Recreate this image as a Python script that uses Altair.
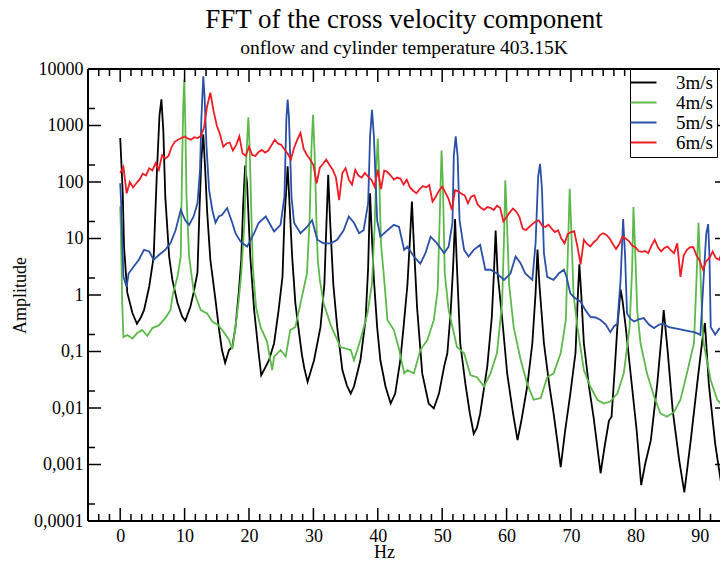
import altair as alt
import pandas as pd

# ---------------- data ----------------
series_names = ["3m/s", "4m/s", "5m/s", "6m/s"]
series_colors = ["#000000", "#5cb94a", "#2a4fa6", "#ee1c25"]

black_pts = [
    (0, 600), (0.2, 200), (0.4, 60), (0.6, 7), (1.1, 1.1), (1.9, 0.48), (2.6, 0.31), (3.2, 0.4),
    (3.7, 0.54), (4.5, 1.4), (5.2, 4.8), (5.7, 150), (6.1, 1500), (6.4, 2900), (6.7, 800), (7.0, 55),
    (7.6, 4.8), (8.1, 1.85), (8.9, 0.72), (9.6, 0.42), (10.1, 0.35), (10.9, 0.62), (11.4, 1.1),
    (12.0, 2.5), (12.3, 30), (12.6, 250), (12.9, 700), (13.2, 165), (13.5, 30), (14.0, 4.2),
    (14.8, 0.81), (15.3, 0.27), (15.8, 0.106), (16.3, 0.063), (16.9, 0.106), (17.4, 0.12),
    (17.9, 0.27), (18.4, 1.07), (18.8, 4.2), (19.1, 40), (19.4, 195), (19.7, 95), (20.2, 4.8),
    (20.8, 0.54), (21.5, 0.094), (21.9, 0.038), (22.6, 0.054), (23.1, 0.07), (23.9, 0.14),
    (24.6, 0.54), (25.2, 2.1), (25.5, 21), (26.0, 190), (26.3, 40), (26.7, 4.8), (27.2, 0.72),
    (27.7, 0.25), (28.2, 0.09), (28.6, 0.05), (29.1, 0.029), (29.6, 0.045), (30.1, 0.07),
    (31.1, 0.27), (31.7, 1.5), (32.0, 15), (32.3, 134), (32.6, 20), (33.1, 1.5), (33.7, 0.27),
    (34.5, 0.047), (35.2, 0.025), (35.8, 0.018), (36.3, 0.024), (37.3, 0.07), (38.1, 0.36),
    (38.5, 3), (38.8, 63), (39.1, 10), (39.4, 1.85), (39.9, 0.27), (40.4, 0.07), (41.2, 0.024),
    (42.0, 0.012), (42.7, 0.018), (43.5, 0.07), (44.0, 0.27), (44.6, 1.5), (45.0, 10), (45.3, 45),
    (45.6, 8), (46.1, 0.6), (46.9, 0.041), (47.9, 0.012), (48.7, 0.0098), (49.5, 0.018),
    (50.3, 0.054), (50.8, 0.093), (51.3, 0.47), (51.7, 3.2), (52.0, 22), (52.3, 3), (52.8, 0.14),
    (53.6, 0.027), (54.3, 0.008), (54.9, 0.0035), (55.4, 0.0045), (55.9, 0.008), (57.0, 0.054),
    (57.7, 0.4), (58.0, 2), (58.3, 13.8), (58.6, 2.5), (59.3, 0.4), (60.1, 0.04), (61.0, 0.008),
    (61.7, 0.0027), (62.3, 0.006), (63.2, 0.024), (64.0, 0.14), (64.5, 1.07), (64.8, 6.4),
    (65.1, 1.5), (65.8, 0.14), (66.6, 0.027), (67.3, 0.008), (67.9, 0.0025), (68.4, 0.0009),
    (69.1, 0.004), (69.9, 0.018), (70.7, 0.094), (71.1, 1.2), (71.3, 3.5), (71.6, 1), (72.0, 0.14),
    (72.8, 0.024), (73.5, 0.007), (74.1, 0.002), (74.6, 0.0007), (75.2, 0.002), (75.9, 0.006),
    (76.3, 0.007), (76.8, 0.05), (77.2, 0.27), (77.7, 1.26), (78.0, 0.8), (78.5, 0.27),
    (79.2, 0.047), (80.2, 0.004), (80.9, 0.00043), (81.5, 0.001), (82.4, 0.0027), (83.4, 0.027),
    (84.1, 0.21), (84.4, 0.54), (85.0, 0.106), (85.8, 0.009), (86.8, 0.0012), (87.6, 0.00032),
    (88.6, 0.0027), (89.6, 0.027), (90.4, 0.16), (90.8, 0.32), (91.4, 0.027), (92.4, 0.0023),
    (93.4, 0.0004), (94.0, 0.0003), (94.5, 0.00035),
]

green_pts = [
    (0, 37), (0.1, 15), (0.3, 0.81), (0.5, 0.18), (1.1, 0.195), (1.9, 0.17), (2.6, 0.21),
    (3.4, 0.24), (4.2, 0.19), (5.0, 0.26), (6.0, 0.29), (7.0, 0.39), (7.8, 0.54), (8.2, 1.07),
    (8.9, 2.1), (9.4, 4.8), (9.6, 165), (9.8, 2500), (9.95, 6500), (10.1, 1260), (10.3, 55),
    (10.7, 4.8), (11.4, 1.2), (12.5, 0.54), (13.5, 0.47), (14.3, 0.34), (15.3, 0.29), (16.1, 0.22),
    (16.9, 0.16), (17.4, 0.11), (17.9, 0.27), (18.4, 0.81), (18.8, 2.4), (19.3, 20), (19.6, 300),
    (19.9, 1400), (20.1, 400), (20.4, 20), (20.6, 3), (21.1, 0.6), (21.8, 0.27), (22.8, 0.15),
    (23.6, 0.047), (23.9, 0.081), (24.9, 0.106), (25.7, 0.081), (26.4, 0.24), (27.2, 0.27),
    (28.0, 0.71), (29.0, 2.4), (29.4, 20), (29.7, 400), (29.95, 1550), (30.2, 300), (30.5, 15),
    (30.7, 4), (31.0, 1.85), (31.6, 0.71), (32.7, 0.29), (34.2, 0.12), (35.8, 0.106), (36.3, 0.07),
    (37.3, 0.16), (38.4, 0.47), (39.1, 1.6), (39.5, 15), (39.8, 200), (40.0, 590), (40.2, 150),
    (40.5, 8), (41.0, 1.85), (41.5, 0.36), (42.5, 0.24), (43.3, 0.11), (44.1, 0.041), (44.6, 0.047),
    (45.6, 0.041), (46.6, 0.106), (47.7, 0.16), (48.7, 0.36), (49.3, 1.23), (49.6, 20),
    (49.9, 360), (50.1, 100), (50.4, 2.4), (51.0, 0.54), (52.3, 0.12), (53.4, 0.093), (54.4, 0.038),
    (55.4, 0.035), (56.5, 0.024), (57.5, 0.041), (58.5, 0.093), (59.3, 0.71), (59.6, 10),
    (59.8, 107), (60.0, 30), (60.4, 1.5), (61.1, 0.27), (62.2, 0.07), (63.2, 0.027), (64.2, 0.014),
    (65.3, 0.015), (66.3, 0.035), (67.3, 0.041), (68.4, 0.093), (69.2, 0.36), (69.5, 5),
    (69.8, 76), (70.0, 20), (70.4, 1), (71.0, 0.27), (72.0, 0.047), (73.0, 0.024), (74.1, 0.014),
    (75.1, 0.012), (76.1, 0.013), (77.2, 0.018), (78.2, 0.041), (79.1, 0.27), (79.5, 3),
    (79.7, 36), (79.9, 10), (80.3, 0.5), (80.8, 0.14), (81.8, 0.041), (82.9, 0.016), (83.9, 0.008),
    (84.9, 0.007), (86.0, 0.0085), (87.0, 0.014), (88.0, 0.041), (89.1, 0.14), (89.5, 2),
    (89.8, 19), (90.0, 5), (90.4, 0.3), (90.6, 0.14), (91.7, 0.031), (92.7, 0.014), (93.7, 0.0105),
    (94.3, 0.007), (94.5, 0.006),
]

blue_pts = [
    (0, 95), (0.15, 42), (0.5, 2.1), (1.0, 1.4), (1.3, 2.4), (2.1, 3.2), (2.9, 4.2), (3.7, 6.3),
    (4.5, 5.9), (5.2, 4.2), (6.0, 5.1), (7.0, 6.3), (7.8, 8.2), (8.6, 14), (9.4, 32), (10.1, 21),
    (10.7, 17.4), (11.4, 24.5), (12.0, 42), (12.4, 165), (12.6, 1260), (12.9, 7400), (13.1, 3300),
    (13.4, 425), (13.8, 73), (14.3, 32), (14.8, 19), (15.3, 24.5), (15.8, 26), (16.6, 34.6),
    (17.4, 19), (17.9, 12.4), (18.7, 8.8), (19.7, 7.2), (20.8, 12.4), (21.5, 19), (22.6, 24.5),
    (23.9, 13.3), (24.9, 17.4), (25.5, 55), (25.8, 1260), (26.0, 2870), (26.2, 1450), (26.6, 55),
    (27.0, 19), (28.0, 12.4), (29.0, 16), (29.8, 21), (30.6, 9.5), (31.6, 8.2), (32.7, 8.2),
    (33.7, 9.5), (34.7, 14), (35.5, 24.5), (36.3, 19), (37.1, 12.4), (37.8, 14), (38.5, 42),
    (38.8, 640), (39.1, 1900), (39.4, 640), (39.9, 21), (40.4, 10.8), (41.5, 14), (42.5, 17.4),
    (43.3, 16), (44.1, 6.3), (44.6, 7.2), (45.6, 4.8), (46.6, 3.6), (47.4, 5.5), (48.2, 10.8),
    (49.2, 8.2), (50.3, 5.5), (51.0, 7.2), (51.6, 19), (51.8, 285), (52.1, 640), (52.4, 285),
    (52.7, 21), (53.4, 6.3), (54.1, 4.8), (54.9, 6.3), (55.9, 7.7), (56.7, 2.8), (57.5, 2.8),
    (58.5, 2.4), (59.6, 1.85), (60.6, 2.4), (61.4, 4.8), (62.2, 3.6), (62.9, 2.4), (64.0, 1.85),
    (64.5, 8.2), (64.9, 125), (65.2, 210), (65.5, 73), (65.8, 5.5), (66.3, 2.1), (67.3, 1.85),
    (68.1, 2.4), (68.9, 2.8), (69.3, 2.1), (69.9, 1.07), (70.5, 0.9), (71.5, 0.76), (72.2, 0.55),
    (73.0, 0.41), (73.8, 0.4), (74.6, 0.36), (75.4, 0.3), (76.1, 0.22), (76.7, 0.28), (77.2, 0.31),
    (77.7, 1.85), (78.1, 22), (78.4, 5), (78.7, 0.47), (79.2, 0.38), (79.8, 0.34), (80.5, 0.37),
    (81.3, 0.39), (82.1, 0.3), (82.9, 0.26), (83.7, 0.3), (84.4, 0.31), (85.2, 0.27), (86.0, 0.26),
    (86.8, 0.25), (87.5, 0.24), (88.3, 0.23), (89.1, 0.22), (89.6, 0.21), (90.1, 0.195), (90.6, 2),
    (91.0, 12), (91.3, 18), (91.5, 5), (91.7, 0.27), (92.4, 0.2), (93.0, 0.25), (93.5, 0.27),
    (94.2, 0.22), (94.5, 0.2),
]

red_pts = [
    (0, 144), (0.5, 185), (1.0, 63), (1.5, 100), (2.0, 80), (2.5, 95), (3.0, 110), (3.5, 140),
    (4.0, 130), (4.5, 175), (5.0, 160), (5.5, 215), (6.0, 165), (6.5, 300), (7.0, 260), (7.5, 290),
    (8.0, 420), (8.5, 520), (9.0, 560), (9.5, 600), (10.0, 640), (10.5, 590), (11.0, 560),
    (11.5, 620), (12.0, 600), (12.5, 650), (13.0, 900), (13.5, 2200), (14.0, 3800), (14.5, 1800),
    (15.0, 1000), (15.5, 700), (16.0, 420), (16.5, 480), (17.0, 500), (17.5, 360), (18.0, 450),
    (18.5, 640), (19.0, 320), (19.5, 290), (20.0, 420), (20.5, 300), (21.0, 290), (21.5, 340),
    (22.0, 370), (22.5, 330), (23.0, 360), (23.5, 450), (24.0, 560), (24.5, 480), (25.0, 455),
    (25.5, 380), (26.0, 320), (26.5, 250), (27.0, 400), (27.5, 560), (28.0, 740), (28.5, 380),
    (29.0, 300), (29.5, 250), (30.0, 200), (30.5, 95), (31.0, 180), (31.5, 210), (32.0, 250),
    (32.5, 200), (33.0, 165), (33.5, 120), (34.0, 48), (34.5, 144), (35.0, 176), (35.5, 110),
    (36.0, 90), (36.5, 165), (37.0, 130), (37.5, 120), (38.0, 145), (38.5, 125), (39.0, 110),
    (39.5, 83), (40.0, 165), (40.5, 75), (41.0, 160), (41.5, 150), (42.0, 130), (42.5, 110),
    (43.0, 120), (43.5, 115), (44.0, 90), (44.5, 110), (45.0, 80), (45.5, 70), (46.0, 63),
    (46.5, 75), (47.0, 85), (47.5, 80), (48.0, 88), (48.5, 45), (49.0, 55), (49.5, 70), (50.0, 83),
    (50.5, 65), (51.0, 50), (51.5, 32), (52.0, 72), (52.5, 68), (53.0, 62), (53.5, 58), (54.0, 42),
    (54.5, 55), (55.0, 58), (55.5, 40), (56.0, 35), (56.5, 32), (57.0, 36), (57.5, 35), (58.0, 32),
    (58.5, 38), (59.0, 35), (59.5, 20), (60.0, 24), (60.5, 29), (61.0, 34), (61.5, 30), (62.0, 24),
    (62.5, 15), (63.0, 14), (63.5, 16), (64.0, 18), (64.5, 20), (65.0, 21), (65.5, 17), (66.0, 16),
    (66.5, 17.5), (67.0, 15), (67.5, 13), (68.0, 14), (68.5, 10), (69.0, 8.2), (69.5, 12),
    (70.0, 13), (70.5, 13.5), (71.0, 7.2), (71.5, 3.5), (72.0, 9.5), (72.5, 8), (73.0, 7.2),
    (73.5, 8.5), (74.0, 9.5), (74.5, 11.5), (75.0, 12.4), (75.5, 11.6), (76.0, 10), (76.5, 8),
    (77.0, 6.5), (77.5, 8), (78.0, 10.8), (78.5, 10), (79.0, 9), (79.5, 7.5), (80.0, 7), (80.5, 6),
    (81.0, 5.8), (81.5, 6), (82.0, 5.5), (82.5, 7.5), (83.0, 9.5), (83.5, 7), (84.0, 5.9),
    (84.5, 6.8), (85.0, 7.2), (85.5, 6.2), (86.0, 5.5), (86.5, 8.2), (87.0, 2.1), (87.5, 5),
    (88.0, 6.3), (88.5, 7), (89.0, 7), (89.5, 5), (90.0, 4), (90.5, 2.8), (91.0, 4), (91.5, 4.5),
    (92.0, 5.9), (92.5, 4.5), (93.0, 4.2), (93.5, 5.9), (94.0, 3), (94.5, 2.2),
]

x_major = [0, 10, 20, 30, 40, 50, 60, 70, 80, 90]
x_minor = [round(k * 10 / 6, 3) for k in range(-2, 56) if k % 6 != 0]
y_major = [0.0001, 0.001, 0.01, 0.1, 1, 10, 100, 1000, 10000]
y_minor = [0.0002, 0.002, 0.02, 0.2, 2, 20, 200, 2000]

# ---------------- chart ----------------
W, H = 632, 452
FONT = "Liberation Serif"
XDOM = [-5, 93.14]

xs = alt.Scale(domain=XDOM, nice=False, zero=False)
ys = alt.Scale(type="log", domain=[0.0001, 10000], nice=False)
cs = alt.Scale(domain=series_names, range=series_colors)

x_axis = alt.Axis(values=x_major, format="d", ticks=False, domain=False, grid=False,
                  labelFont=FONT, labelFontSize=18, labelColor="black", labelPadding=6,
                  title="Hz", titleFont=FONT, titleFontSize=18, titleFontWeight="normal",
                  titleColor="black", titleX=296, titleY=36, titleBaseline="alphabetic",
                  titleAlign="center", labelFlush=False, labelOverlap=False)
y_axis = alt.Axis(values=y_major, ticks=False, domain=False, grid=False,
                  labelExpr="replace(toString(datum.value), '.', ',')",
                  labelFont=FONT, labelFontSize=18, labelColor="black", labelPadding=5,
                  labelOverlap=False, labelFlush=False,
                  title="Amplitude", titleFont=FONT, titleFontSize=18, titleFontWeight="normal",
                  titleColor="black", titleX=-63, titleY=H / 2, titleAngle=270,
                  titleBaseline="alphabetic", titleAlign="center")

legend = alt.Legend(orient="none", legendX=542, legendY=0, title=None,
                    symbolType="M-2,0H2", symbolSize=169, symbolStrokeWidth=2,
                    labelFont=FONT, labelFontSize=19, labelColor="black", labelOffset=23,
                    strokeColor="black", fillColor="white", padding=4, rowPadding=0,
                    labelLimit=300)


def series_layer(name, pts, first=False):
    df = pd.DataFrame(pts, columns=["hz", "amp"])
    df["series"] = name
    enc = dict(
        x=alt.X("hz:Q", scale=xs, axis=x_axis),
        y=alt.Y("amp:Q", scale=ys, axis=y_axis),
        color=alt.Color("series:N", scale=cs, legend=legend if first else None),
    )
    return alt.Chart(df).mark_line(strokeWidth=1.8, clip=True).encode(**enc)


lines = [
    series_layer("3m/s", black_pts, first=True),
    series_layer("4m/s", green_pts),
    series_layer("5m/s", blue_pts),
    series_layer("6m/s", red_pts),
]

xmaj_df = pd.DataFrame({"v": x_major})
xmin_df = pd.DataFrame({"v": x_minor})
ymaj_df = pd.DataFrame({"v": y_major})
ymin_df = pd.DataFrame({"v": y_minor})

TICK = dict(color="black", strokeWidth=1.5)


def xtick(df, y0, y1):
    return alt.Chart(df).mark_rule(**TICK).encode(
        x=alt.X("v:Q", scale=xs, axis=x_axis), y=alt.value(y0), y2=alt.value(y1))


def ytick(df, x0, x1):
    return alt.Chart(df).mark_rule(**TICK).encode(
        y=alt.Y("v:Q", scale=ys, axis=y_axis), x=alt.value(x0), x2=alt.value(x1))


ticks = [
    xtick(xmaj_df, H, H - 13), xtick(xmin_df, H, H - 7),
    xtick(xmaj_df, 0, 13), xtick(xmin_df, 0, 7),
    ytick(ymaj_df, 0, 13), ytick(ymin_df, 0, 7),
    ytick(ymaj_df, W - 5, W),
]

# frame: left, bottom and top edges (the right edge lies outside the picture)
frame_df = pd.DataFrame({"v": [0.0001]})
FRAME = dict(color="black", strokeWidth=2)
frame = [
    alt.Chart(frame_df).mark_rule(**FRAME).encode(x=alt.value(0), y=alt.value(0), y2=alt.value(H)),
    alt.Chart(frame_df).mark_rule(**FRAME).encode(x=alt.value(0), x2=alt.value(W), y=alt.value(H)),
    alt.Chart(frame_df).mark_rule(**FRAME).encode(x=alt.value(0), x2=alt.value(W), y=alt.value(0)),
]

chart = alt.layer(*lines, *ticks, *frame).properties(
    width=W, height=H,
    title=alt.TitleParams(
        text="FFT of the cross velocity component",
        subtitle="onflow and cylinder temperature 403.15K",
        font=FONT, fontSize=27, fontWeight="normal", color="black",
        subtitleFont=FONT, subtitleFontSize=19.5, subtitleColor="black",
        anchor="middle", frame="group", offset=2, subtitlePadding=5,
    ),
    autosize=alt.AutoSizeParams(type="none"),
    padding={"left": 80, "top": 61, "right": 0, "bottom": 41},
).configure_view(stroke=None).configure(background="white")

chart.save("out.html", embed_options={"renderer": "svg", "actions": False})
